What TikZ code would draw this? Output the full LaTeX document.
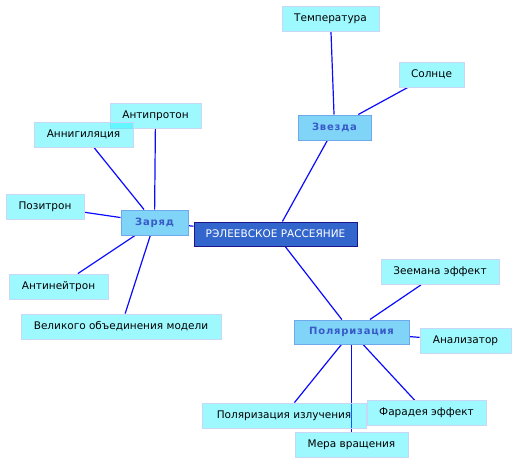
\documentclass[tikz,border=0pt]{standalone}
\usepackage{fontspec}
\setmainfont{DejaVu Sans}
\newfontfamily\topicfont[LetterSpace=8]{DejaVu Sans}
\usetikzlibrary{backgrounds}

\definecolor{leaffill}{RGB}{0,240,255}
\definecolor{leafline}{RGB}{200,215,245}
\definecolor{topicfill}{RGB}{128,212,248}
\definecolor{topicline}{RGB}{110,170,235}
\definecolor{topictext}{RGB}{55,90,200}
\definecolor{rootfill}{RGB}{51,102,204}
\definecolor{rootline}{RGB}{30,20,140}
\definecolor{linkblue}{RGB}{10,10,255}

\begin{document}
\begin{tikzpicture}[x=1pt, y=-1pt,
    leaf/.style={draw=leafline, line width=0.8pt, fill=leaffill, fill opacity=0.38, text opacity=1,
        minimum height=25pt, inner sep=0pt, font=\fontsize{10.5}{12}\selectfont},
    topic/.style={draw=topicline, line width=1pt, fill=topicfill, text=topictext,
        minimum height=25pt, inner sep=0pt, font=\fontsize{10}{12}\selectfont\topicfont\bfseries},
    root/.style={draw=rootline, line width=1pt, fill=rootfill, text=white,
        minimum height=24pt, inner sep=0pt, font=\fontsize{10.5}{12}\selectfont},
    link/.style={draw=linkblue, line width=1.2pt}]
    \useasboundingbox (0,0) rectangle (517,464);

    % centre
    \node[root, minimum width=163pt] (cen) at (275.5,234) {РЭЛЕЕВСКОЕ РАССЕЯНИЕ};

    % topics
    \node[topic, minimum width=67pt] (zar) at (154.5,222.5) {Заряд};
    \node[topic, minimum width=73pt] (zve) at (334.5,127.5) {Звезда};
    \node[topic, minimum width=115pt, minimum height=24pt] (pol) at (351.5,332) {Поляризация};

    % leaves of Заряд
    \node[leaf, minimum width=91pt] (aprot) at (155.5,115.5) {Антипротон};
    \node[leaf, minimum width=99pt] (annih) at (83.5,134.5) {Аннигиляция};
    \node[leaf, minimum width=78pt] (pozit) at (45,206.5) {Позитрон};
    \node[leaf, minimum width=99pt] (aneut) at (58.5,286.5) {Антинейтрон};
    \node[leaf, minimum width=200pt] (gut) at (121,326.5) {Великого объединения модели};

    % leaves of Звезда
    \node[leaf, minimum width=97pt] (temp) at (330.5,18.5) {Температура};
    \node[leaf, minimum width=65pt] (sun) at (431.5,74.5) {Солнце};

    % leaves of Поляризация
    \node[leaf, minimum width=118pt] (zeem) at (440,272) {Зеемана эффект};
    \node[leaf, minimum width=91pt] (anal) at (465.5,341) {Анализатор};
    \node[leaf, minimum width=164pt] (polizl) at (284,415.5) {Поляризация излучения};
    \node[leaf, minimum width=119pt] (farad) at (426.5,413) {Фарадея эффект};
    \node[leaf, minimum width=113pt] (mera) at (351.5,445) {Мера вращения};

    \begin{pgfonlayer}{background}
        \draw[link] (cen) -- (zar);
        \draw[link] (cen) -- (zve);
        \draw[link] (cen) -- (pol);
        \foreach \n in {aprot, annih, pozit, aneut, gut}
            \draw[link] (zar) -- (\n);
        \foreach \n in {temp, sun}
            \draw[link] (zve) -- (\n);
        \foreach \n in {zeem, anal, polizl, farad, mera}
            \draw[link] (pol) -- (\n);
    \end{pgfonlayer}
\end{tikzpicture}
\end{document}
